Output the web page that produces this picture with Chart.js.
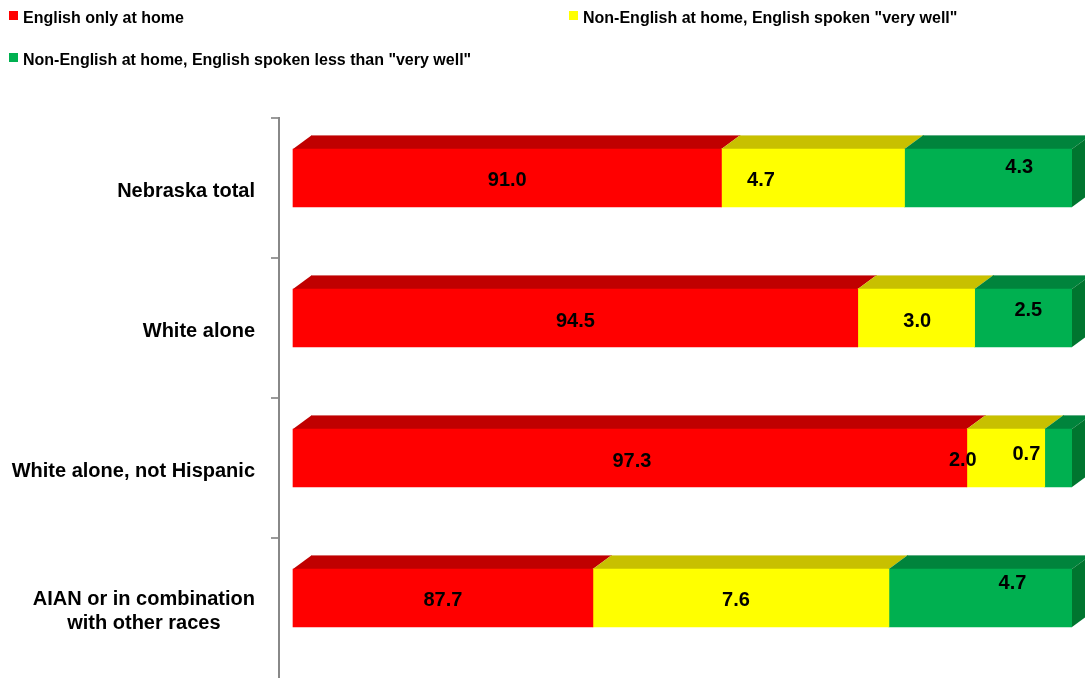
<!DOCTYPE html>
<html><head><meta charset="utf-8">
<script src="https://cdn.jsdelivr.net/npm/chart.js@4.4.1/dist/chart.umd.min.js"></script>
<style>
html,body{margin:0;padding:0;background:#fff;}
#wrap{position:relative;width:1085px;height:678px;overflow:hidden;background:#fff;}
#legend{position:absolute;left:0;top:0;width:1085px;height:100px;font:bold 16px "Liberation Sans",Arial,sans-serif;color:#000;z-index:2;}
.li{position:absolute;white-space:nowrap;line-height:20px;padding-left:14px;}
.sw{position:absolute;left:0;top:3px;width:9px;height:9px;}
canvas{position:absolute;left:0;top:0;}
</style></head>
<body><div id="wrap"><div id="legend"></div><canvas id="c" width="1085" height="678"></canvas></div>
<script>
// ---- data ----
const categories = ["Nebraska total", "White alone", "White alone, not Hispanic", ["AIAN or in combination", "with other races"]];
const seriesNames = ["English only at home", 'Non-English at home, English spoken "very well"', 'Non-English at home, English spoken less than "very well"'];
const englishOnly = [91.0, 94.5, 97.3, 87.7];
const nonEnglishVeryWell = [4.7, 3.0, 2.0, 7.6];
const nonEnglishLessWell = [4.3, 2.5, 0.7, 4.7];
const axisStart = 80;
const axisEnd = 100;

// ---- styles ----
const frontColors = ["#FF0000", "#FFFF00", "#00B050"];
const topColors = ["#C00000", "#C8C000", "#00843C"];
const edgeColors = ["#D86A6A", "#DCD870", "#5FAF85"];
const sideColor = "#00752F";
const FONT = '"Liberation Sans", Arial, sans-serif';
const DX = 19, DY = 14, SHIFT = 10;
// label nudges (px) relative to the centre of each bar's front face
const labelNudge = [
  [[0, 2], [0, 3], [2, 3], [0, 2]],
  [[-52, 2], [1, 3], [-43, 2], [-5, 2]],
  [[31, -11], [5, -8], [-32, -4], [32, -15]]
];
const legendPos = [[9, 8], [569, 8], [9, 50]];

// ---- legend (HTML) ----
const lg = document.getElementById('legend');
seriesNames.forEach((name, i) => {
  const d = document.createElement('div');
  d.className = 'li';
  d.style.left = legendPos[i][0] + 'px';
  d.style.top = legendPos[i][1] + 'px';
  const s = document.createElement('span');
  s.className = 'sw';
  s.style.background = frontColors[i];
  d.appendChild(s);
  d.appendChild(document.createTextNode(name));
  lg.appendChild(d);
});

const seriesValues = [englishOnly, nonEnglishVeryWell, nonEnglishLessWell];

const threeD = {
  id: 'threeD',
  afterDatasetsUpdate(chart) {
    chart.data.datasets.forEach((ds, i) => {
      chart.getDatasetMeta(i).data.forEach(el => { el.y -= SHIFT; });
    });
  },
  beforeDatasetsDraw(chart) {
    const ctx = chart.ctx;
    const n = chart.data.datasets.length;
    ctx.save();
    chart.data.datasets.forEach((ds, i) => {
      chart.getDatasetMeta(i).data.forEach(el => {
        const p = el.getProps(['x', 'y', 'base', 'height'], true);
        const l = Math.min(p.x, p.base), r = Math.max(p.x, p.base);
        const t = p.y - p.height / 2, b = p.y + p.height / 2;
        ctx.fillStyle = topColors[i];
        ctx.beginPath();
        ctx.moveTo(l, t); ctx.lineTo(r, t); ctx.lineTo(r + DX, t - DY); ctx.lineTo(l + DX, t - DY);
        ctx.closePath(); ctx.fill();
        ctx.fillStyle = edgeColors[i];
        ctx.fillRect(l + DX, t - DY, r - l, 1);
        if (i === n - 1) {
          ctx.fillStyle = sideColor;
          ctx.beginPath();
          ctx.moveTo(r, t); ctx.lineTo(r + DX, t - DY); ctx.lineTo(r + DX, b - DY); ctx.lineTo(r, b);
          ctx.closePath(); ctx.fill();
        }
      });
    });
    ctx.restore();
  },
  afterDatasetsDraw(chart) {
    const ctx = chart.ctx;
    ctx.save();
    ctx.font = 'bold 20px ' + FONT;
    ctx.fillStyle = '#000';
    ctx.textAlign = 'center';
    ctx.textBaseline = 'middle';
    chart.data.datasets.forEach((ds, i) => {
      chart.getDatasetMeta(i).data.forEach((el, j) => {
        const p = el.getProps(['x', 'y', 'base'], true);
        const cx = (p.x + p.base) / 2;
        const nd = labelNudge[i][j];
        ctx.fillText(seriesValues[i][j].toFixed(1), cx + nd[0], p.y + nd[1]);
      });
    });
    ctx.restore();
  },
  afterDraw(chart) {
    const ctx = chart.ctx;
    const ys = chart.scales.y;
    ctx.save();
    ctx.font = 'bold 20px ' + FONT;
    ctx.fillStyle = '#000';
    ctx.textAlign = 'center';
    ctx.textBaseline = 'middle';
    const rightEdge = chart.chartArea.left - 24;
    categories.forEach((c, j) => {
      const lines = Array.isArray(c) ? c : [c];
      const w = Math.max(...lines.map(s => ctx.measureText(s).width));
      const cx = rightEdge - w / 2;
      const cy = ys.getPixelForValue(j) + 3;
      const lh = 24;
      lines.forEach((s, k) => {
        ctx.fillText(s, cx, cy + (k - (lines.length - 1) / 2) * lh);
      });
    });
    ctx.restore();
  }
};

const pxStart = 14; // gap between axis line and bar start (style)
new Chart(document.getElementById('c'), {
  type: 'bar',
  data: {
    labels: categories,
    datasets: seriesNames.map((name, i) => ({
      label: name,
      data: seriesValues[i],
      backgroundColor: frontColors[i],
      borderWidth: 0,
      barThickness: 58,
      base: i === 0 ? axisStart : undefined
    }))
  },
  options: {
    indexAxis: 'y',
    responsive: false,
    animation: false,
    devicePixelRatio: 1,
    layout: { padding: { top: 118, right: 13, bottom: 0, left: 0 } },
    plugins: { legend: { display: false }, tooltip: { enabled: false } },
    scales: {
      x: {
        stacked: true,
        display: false,
        min: axisStart - pxStart * (axisEnd - axisStart) / 779,
        max: axisEnd
      },
      y: {
        stacked: true,
        afterFit(s) { s.width = 279; },
        ticks: { display: false },
        grid: {
          display: true, drawOnChartArea: false, drawTicks: true, tickLength: 8,
          color: (c) => (c.type !== 'tick' ? 'rgba(0,0,0,0)' : '#9a9a9a'),
          lineWidth: 2, offset: true
        },
        border: { display: true, color: '#888', width: 2 }
      }
    }
  },
  plugins: [threeD]
});
</script>
</body></html>
